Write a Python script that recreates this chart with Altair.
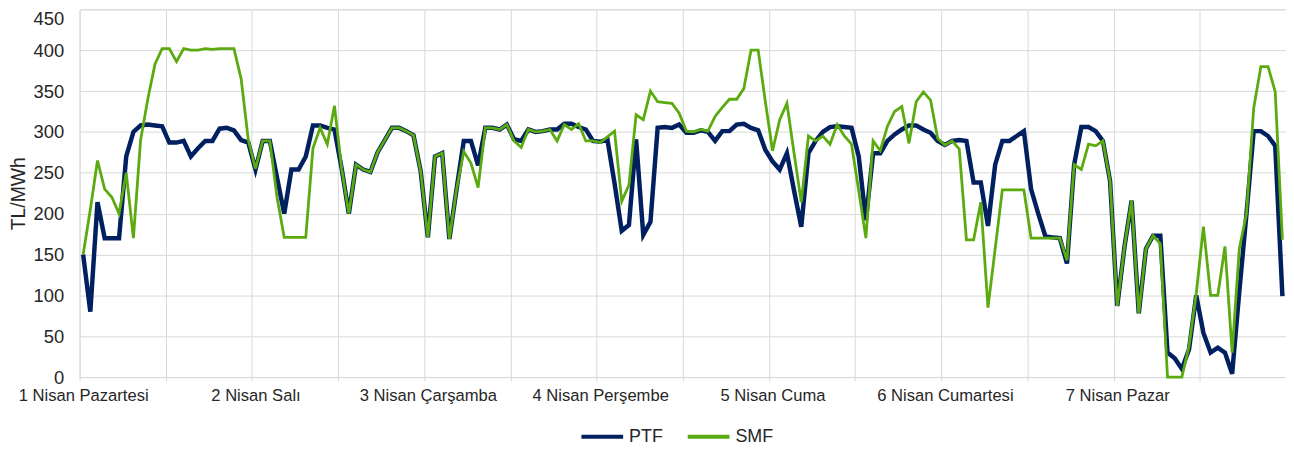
import json
import altair as alt
import pandas as pd

days = ["1 Nisan Pazartesi", "2 Nisan Salı", "3 Nisan Çarşamba", "4 Nisan Perşembe",
        "5 Nisan Cuma", "6 Nisan Cumartesi", "7 Nisan Pazar"]

ptf_d1 = [150, 80, 214, 170, 170, 170, 270, 300, 308, 309, 308, 307, 287, 287, 289, 270, 280, 289, 289, 304, 305, 302, 290, 287]
ptf_d2 = [254, 289, 289, 244, 200, 254, 254, 270, 308, 308, 305, 303, 255, 200, 260, 254, 251, 275, 290, 305, 305, 301, 296, 252]
ptf_d3 = [171, 270, 274, 169, 230, 289, 289, 259, 305, 305, 303, 309, 291, 289, 303, 300, 301, 303, 303, 310, 310, 306, 303, 289]
ptf_d4 = [288, 291, 237, 179, 186, 291, 174, 190, 305, 306, 305, 309, 299, 299, 302, 300, 289, 301, 301, 309, 310, 305, 302, 278]
ptf_d5 = [264, 254, 274, 228, 184, 274, 289, 300, 306, 307, 306, 305, 270, 192, 274, 274, 289, 297, 303, 308, 308, 303, 299, 289]
ptf_d6 = [284, 289, 290, 289, 238, 238, 185, 260, 289, 289, 295, 301, 230, 200, 172, 171, 170, 139, 260, 306, 306, 301, 289, 240]
ptf_d7 = [87, 159, 216, 78, 157, 173, 173, 30, 23, 10, 34, 100, 54, 30, 36, 30, 4, 105, 200, 301, 301, 295, 283, 99]

smf_d1 = [150, 205, 265, 230, 220, 200, 250, 170, 290, 340, 383, 402, 402, 386, 402, 400, 400, 402, 401, 402, 402, 402, 365, 290]
smf_d2 = [255, 289, 289, 220, 171, 171, 171, 171, 280, 305, 285, 332, 255, 200, 260, 254, 251, 275, 290, 305, 305, 301, 296, 252]
smf_d3 = [171, 270, 274, 169, 230, 276, 262, 232, 305, 305, 303, 309, 289, 281, 303, 300, 301, 303, 289, 309, 303, 310, 289, 289]
smf_d4 = [287, 294, 301, 215, 235, 321, 315, 350, 337, 336, 335, 323, 301, 300, 303, 301, 319, 330, 340, 340, 353, 400, 400, 337]
smf_d5 = [277, 315, 335, 274, 214, 295, 289, 295, 285, 309, 295, 285, 228, 170, 289, 277, 307, 325, 331, 286, 337, 349, 339, 292]
smf_d6 = [284, 289, 279, 168, 168, 214, 85, 157, 229, 229, 229, 229, 170, 170, 170, 170, 170, 143, 260, 254, 285, 283, 289, 240]
smf_d7 = [87, 159, 216, 78, 157, 173, 163, 0, 0, 0, 38, 102, 184, 100, 100, 160, 30, 157, 200, 329, 380, 380, 349, 168]

series_names = ["PTF", "SMF"]
series_colors = ["#002060", "#5BAA0F"]

ptf = ptf_d1 + ptf_d2 + ptf_d3 + ptf_d4 + ptf_d5 + ptf_d6 + ptf_d7
smf = smf_d1 + smf_d2 + smf_d3 + smf_d4 + smf_d5 + smf_d6 + smf_d7
n = len(ptf)

df = pd.DataFrame({
    "x": [i + 0.5 for i in range(n)] * 2,
    "series": ["PTF"] * n + ["SMF"] * n,
    "value": ptf + smf,
})

FONT = "Liberation Sans"
TXT = "#262626"
GRID = "#d9d9d9"
PLOT_W = 1214
PLOT_H = 370

label_expr = ("datum.value % 24 == 0 && datum.value < 168 ? "
              + json.dumps(days, ensure_ascii=False) + "[datum.value / 24] : ''")

x_enc = alt.X(
    "x:Q",
    scale=alt.Scale(domain=[0, n], nice=False, zero=False),
    axis=alt.Axis(
        values=list(range(0, n + 1, 12)), labelExpr=label_expr,
        labelOffset=PLOT_W / n / 2, labelFlush=False, labelOverlap=False,
        grid=True, gridColor=GRID, gridWidth=1,
        ticks=True, tickColor=GRID, tickSize=4,
        domainColor=GRID, domainWidth=1,
        labelFont=FONT, labelFontSize=16.7, labelColor=TXT, labelPadding=7,
        title=None,
    ),
)
y_enc = alt.Y(
    "value:Q",
    scale=alt.Scale(domain=[0, 450], nice=False),
    axis=alt.Axis(
        values=list(range(0, 451, 50)), grid=True, gridColor=GRID, gridWidth=1,
        ticks=False, domain=False,
        labelFont=FONT, labelFontSize=18.5, labelColor=TXT, labelPadding=16,
        labelBaseline={"condition": {"test": "datum.value == 450", "value": "top"}, "value": "middle"},
        title="TL/MWh", titleFont=FONT, titleFontSize=19.5, titleFontWeight="normal",
        titleColor=TXT, titleAngle=270, titleX=-61, titleY=PLOT_H / 2,
        titleAlign="center", titleBaseline="middle",
    ),
)
color_enc = alt.Color(
    "series:N",
    scale=alt.Scale(domain=series_names, range=series_colors),
    legend=alt.Legend(
        title=None, orient="none", direction="horizontal", legendX=503, legendY=407,
        symbolType="stroke", symbolSize=1764, symbolStrokeWidth=4,
        labelFont=FONT, labelFontSize=18, labelColor=TXT, labelOffset=4,
        columnPadding=17, padding=0,
    ),
)

base = alt.Chart(df).encode(x=x_enc, y=y_enc, color=color_enc)
ptf_line = base.transform_filter("datum.series == 'PTF'").mark_line(strokeWidth=4.5)
smf_line = base.transform_filter("datum.series == 'SMF'").mark_line(strokeWidth=2.8)

chart = alt.layer(ptf_line, smf_line).properties(
    width=PLOT_W, height=PLOT_H,
    autosize=alt.AutoSizeParams(type="none"),
    padding={"left": 72, "top": 0, "right": 0, "bottom": 72},
).configure_view(stroke=None).configure(background="white")

chart.save("out.html", embed_options={"renderer": "svg", "actions": False})
